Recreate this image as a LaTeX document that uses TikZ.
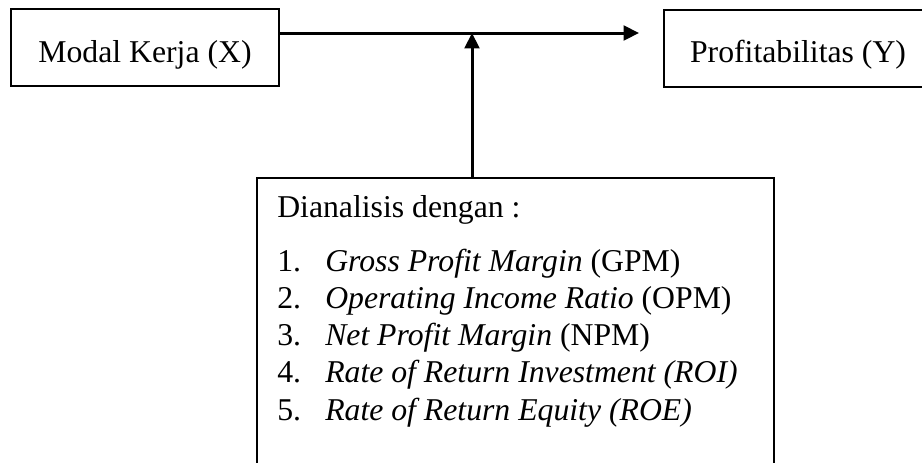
\documentclass[tikz,border=0pt]{standalone}
\usepackage{fontspec}
\setmainfont{Liberation Serif}
\usetikzlibrary{arrows.meta}
\begin{document}
\begin{tikzpicture}[x=0.75pt,y=-0.75pt,
  box/.style={draw=black,line width=1.5pt,rectangle,inner sep=0pt},
  txt/.style={font=\fontsize{23.8}{27.75}\selectfont,inner sep=0pt,anchor=base},
  conn/.style={line width=2.25pt,-{Triangle[length=11.5pt,width=11pt]}}]
\useasboundingbox (0,0) rectangle (922,462);
\clip (0,0) rectangle (922,462);
\fill[white] (0,0) rectangle (922,462);
% boxes
\node[box,minimum width=201pt,minimum height=57.75pt] (mk) at (145,47.5) {};
\node[box,minimum width=300pt,minimum height=57.75pt,anchor=north west] (pr) at (663,9) {};
\node[box,minimum width=388.1pt,minimum height=240pt,anchor=north west] (an) at (255.5,177) {};
% texts
\node[txt] (mkt) at (145,62) {Modal Kerja (X)};
\node[txt] (prt) at (798,62) {Profitabilitas (Y)};
\node[txt,anchor=base west] (h) at (277,217) {Dianalisis dengan :};
\node[txt,anchor=base west] (l1) at (277,271) {\makebox[36pt][l]{1.}\textit{Gross Profit Margin} (GPM)};
\node[txt,anchor=base west] (l2) at (277,308) {\makebox[36pt][l]{2.}\textit{Operating Income Ratio} (OPM)};
\node[txt,anchor=base west] (l3) at (277,345) {\makebox[36pt][l]{3.}\textit{Net Profit Margin} (NPM)};
\node[txt,anchor=base west] (l4) at (277,382) {\makebox[36pt][l]{4.}\textit{Rate of Return Investment (ROI)}};
\node[txt,anchor=base west] (l5) at (277,420) {\makebox[36pt][l]{5.}\textit{Rate of Return Equity (ROE)}};
% connectors
\coordinate (tipx) at (639,33);
\coordinate (join) at (472,33);
\draw[conn] (mk.east |- tipx) -- (tipx);
\draw[conn] (an.north -| join) -- (join);
\end{tikzpicture}
\end{document}
